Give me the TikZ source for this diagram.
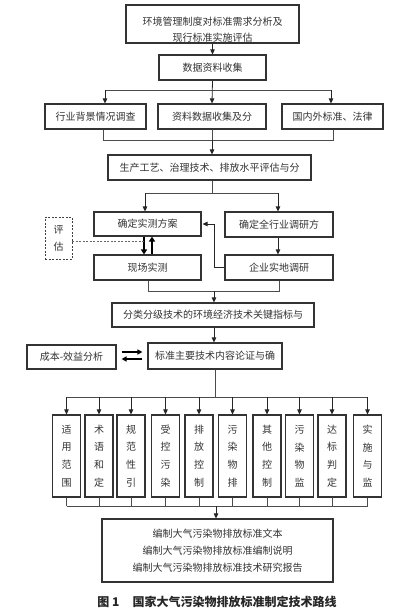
\documentclass[tikz,border=0pt]{standalone}
\usepackage{fontspec}
\setmainfont{Noto Sans CJK SC}
\usetikzlibrary{arrows.meta}
\begin{document}
\begin{tikzpicture}[x=1pt,y=-1pt,
  box/.style={draw=black!80,line width=1.1pt,fill=white,inner sep=0pt,
    font=\fontsize{10}{12}\selectfont,text=black!80,align=center},
  vbox/.style={box,minimum width=28,minimum height=82,font=\fontsize{10}{17.7}\selectfont},
  conn/.style={draw=black!70,line width=0.8pt},
  arr/.style={conn,draw=black!85,-{Triangle[length=5pt,width=4.5pt]}},
  barr/.style={draw=black,line width=2pt,-{Triangle[length=5pt,width=6pt]}},
  marr/.style={draw=black,line width=1.5pt,-{Triangle[length=5pt,width=5pt]}},
  dsh/.style={draw=black!60,line width=0.8pt,dash pattern=on 2pt off 1.5pt}]
\useasboundingbox[fill=white] (0,0) rectangle (418,615);

% top box with clipped second line
\node[box,minimum width=173,minimum height=38] (top) at (212.5,24) {};
\begin{scope}
  \clip (126.6,5.6) rectangle (298.4,42.4);
  \node[inner sep=0pt,font=\fontsize{10}{16}\selectfont,text=black!80,align=center] (toptext) at (212.5,30)
    {环境管理制度对标准需求分析及\\现行标准实施评估};
\end{scope}
\draw[draw=black!80,line width=1.1pt] (top.south west) rectangle (top.north east);

\node[box,minimum width=107,minimum height=25] (data) at (212.5,67.5) {数据资料收集};

\node[box,minimum width=101,minimum height=25] (b3a) at (95.5,116.5) {行业背景情况调查};
\node[box,minimum width=108,minimum height=25] (b3b) at (212,116.5) {资料数据收集及分};
\node[box,minimum width=101,minimum height=25] (b3c) at (332.5,116.5) {国内外标准、法律};

\node[box,minimum width=203,minimum height=25] (b4) at (209.5,167.5) {生产工艺、治理技术、排放水平评估与分};

\node[box,minimum width=107,minimum height=24] (b5a) at (147.5,224) {确定实测方案};
\node[box,minimum width=108,minimum height=25] (b5b) at (279,224.5) {确定全行业调研方};
\node[box,minimum width=107,minimum height=25] (b6a) at (147.5,267.5) {现场实测};
\node[box,minimum width=108,minimum height=25] (b6b) at (279,267.5) {企业实地调研};

\node[box,draw=black!75,line width=0.9pt,dash pattern=on 2pt off 1.5pt,minimum width=27,minimum height=42,
  font=\fontsize{10}{17}\selectfont] (pg) at (58.5,238) {评\\估};

\node[box,minimum width=202,minimum height=24] (b7) at (213,315) {分类分级技术的环境经济技术关键指标与};
\node[box,minimum width=134,minimum height=26] (b8) at (215,356) {标准主要技术内容论证与确};
\node[box,minimum width=89,minimum height=24] (b8l) at (71.5,357) {成本-效益分析};

\node[vbox] (c1) at (66.5,456) {适\\用\\范\\围};
\node[vbox] (c2) at (99,456) {术\\语\\和\\定};
\node[vbox] (c3) at (131,456) {规\\范\\性\\引};
\node[vbox] (c4) at (165.5,456) {受\\控\\污\\染};
\node[vbox] (c5) at (199,456) {排\\放\\控\\制};
\node[vbox] (c6) at (232.5,456) {污\\染\\物\\排};
\node[vbox] (c7) at (267,456) {其\\他\\控\\制};
\node[vbox] (c8) at (299.5,456) {污\\染\\物\\监};
\node[vbox] (c9) at (332,456) {达\\标\\判\\定};
\node[vbox] (c10) at (367.5,456) {实\\施\\与\\监};

\node[box,minimum width=231,minimum height=63,font=\fontsize{10}{17}\selectfont] (out) at (217.5,550.5)
  {编制大气污染物排放标准文本\\编制大气污染物排放标准编制说明\\编制大气污染物排放标准技术研究报告};

\node[inner sep=0pt,font=\fontsize{12}{14}\selectfont\bfseries,text=black!85] (cap) at (217,602)
  {图 1\hspace{1.1em}国家大气污染物排放标准制定技术路线};

% connectors
\draw[arr] (top.south) -- (data.north);
\coordinate (s1l) at (105,90);
\coordinate (s1r) at (331,90);
\draw[conn] (s1l) -- (s1r);
\draw[arr] (s1l) -- (s1l |- b3a.north);
\draw[arr] (s1r) -- (s1r |- b3c.north);
\draw[arr] (data.south) -- (b3b.north);

\coordinate (m1l) at (103,140);
\coordinate (m1r) at (333,140);
\coordinate (m1c) at (212,140);
\draw[conn] (m1l |- b3a.south) -- (m1l) -- (m1r) -- (m1r |- b3c.south);
\draw[conn] (b3b.south) -- (b3b.south |- m1c);
\draw[arr] (m1c) -- (m1c |- b4.north);

\coordinate (s2) at (212,193);
\coordinate (s2l) at (145,193);
\coordinate (s2r) at (278,193);
\draw[conn] (s2 |- b4.south) -- (s2);
\draw[conn] (s2l) -- (s2r);
\draw[arr] (s2l) -- (s2l |- b5a.north);
\draw[arr] (s2r) -- (s2r |- b5b.north);
\draw[arr] (s2r |- b5b.south) -- (s2r |- b6b.north);
\draw[arr] (b6b.west) -- ++(-10,0) |- ([xshift=1pt]b5a.east);

\draw[barr] ([xshift=-3.5pt]b5a.south) -- ([xshift=-3.5pt]b6a.north);
\draw[barr] ([xshift=4.5pt]b6a.north) -- ([xshift=4.5pt]b5a.south);
\coordinate (dl) at (144,241);
\draw[dsh] ([yshift=-3pt]pg.east) -- (dl);

\coordinate (m3l) at (148,291);
\coordinate (m3r) at (279,291);
\coordinate (m3c) at (214,291);
\draw[conn] (m3l |- b6a.south) -- (m3l) -- (m3r) -- (m3r |- b6b.south);
\draw[arr] (m3c) -- (m3c |- b7.north);
\draw[arr] (m3c |- b7.south) -- (m3c |- b8.north);

\draw[marr] ([xshift=5pt,yshift=5pt]b8l.east) -- ([xshift=-5pt,yshift=4pt]b8.west);
\draw[marr] ([xshift=-5pt,yshift=-3pt]b8.west) -- ([xshift=5pt,yshift=-2pt]b8l.east);

\coordinate (s4) at (215,397);
\draw[conn] (b8.south) -- (b8.south |- s4);
\draw[conn] (c1.north |- s4) -- (c10.north |- s4);
\foreach \i in {1,...,10} {
  \draw[arr] (c\i.north |- s4) -- (c\i.north);
  \draw[conn] (c\i.south) -- (c\i.south |- 0,506);
}
\coordinate (m5) at (216,506);
\draw[conn] (c1.south |- m5) -- (c10.south |- m5);
\draw[arr] (m5) -- (m5 |- out.north);
\end{tikzpicture}
\end{document}
